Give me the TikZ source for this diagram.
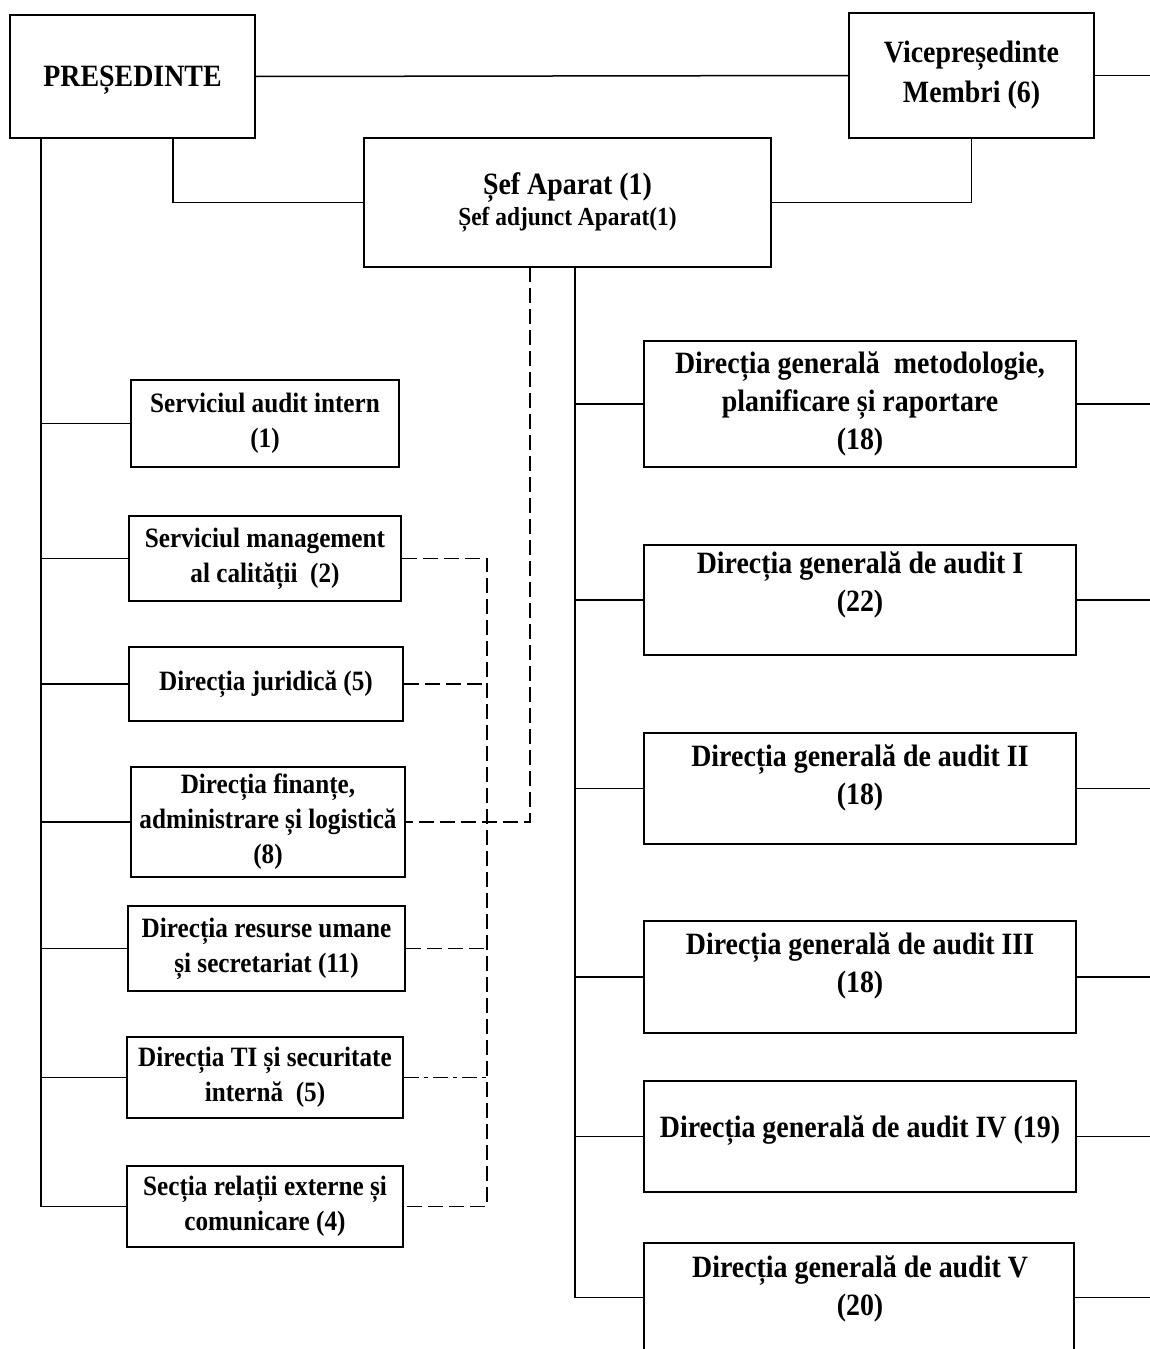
\documentclass[tikz,border=0pt]{standalone}
\usepackage{fontspec}
\setmainfont{Liberation Serif}[FakeStretch=0.9]
\usepackage{tikz}

\begin{document}
\begin{tikzpicture}[x=1pt, y=-1pt,
    box/.style={draw, line width=1.6pt, inner sep=0pt, align=center},
    topfont/.style={font=\fontsize{31}{40}\selectfont\bfseries},
    leftfont/.style={font=\fontsize{28}{35}\selectfont\bfseries},
    rightfont/.style={font=\fontsize{31}{38}\selectfont\bfseries},
    link/.style={line width=1.5pt},
    dashln/.style={line width=1.5pt, dash pattern=on 15pt off 6pt},
    dashdotln/.style={line width=1.5pt, dash pattern=on 15pt off 5pt on 4pt off 5pt}]

    \useasboundingbox[fill=white] (0, 0) rectangle (1150, 1349);
    \clip (0, 0) rectangle (1150, 1349);

    % Top boxes
    \node[box, topfont, text depth=0pt, minimum width=245, minimum height=123] (pres) at (132.5, 76.5) {PREȘEDINTE};
    \node[box, topfont, minimum width=245, minimum height=125] (vice) at (971.5, 75.5) {Vicepreședinte\\Membri (6)};
    \node[box, font=\fontsize{26}{31}\selectfont\bfseries, minimum width=407, minimum height=129] (sef) at (567.5, 202.5)
        {{\fontsize{31}{31}\selectfont Șef Aparat (1)}\\Șef adjunct Aparat(1)};

    % Left column
    \node[box, leftfont, minimum width=268, minimum height=87] (audint) at (265, 423.5) {Serviciul audit intern\\(1)};
    \node[box, leftfont, minimum width=272, minimum height=85] (mgmt) at (265, 558.5) {Serviciul management\\al calității~ (2)};
    \node[box, leftfont, minimum width=274, minimum height=74] (jur) at (266, 684) {Direcția juridică (5)};
    \node[box, leftfont, minimum width=274, minimum height=110] (fin) at (268, 822) {Direcția finanțe,\\administrare și logistică\\(8)};
    \node[box, leftfont, minimum width=277, minimum height=85] (rum) at (266.5, 948.5) {Direcția resurse umane\\și secretariat (11)};
    \node[box, leftfont, minimum width=276, minimum height=81] (ti) at (265, 1077.5) {Direcția TI și securitate\\internă~ (5)};
    \node[box, leftfont, minimum width=276, minimum height=81] (relext) at (265, 1206.5) {Secția relații externe și\\comunicare (4)};

    % Right column
    \node[box, rightfont, minimum width=432, minimum height=126] (dga0) at (860, 404) {Direcția generală~ metodologie,\\planificare și raportare\\(18)};
    \node[box, minimum width=432, minimum height=110] (dga1) at (860, 600) {};
    \node[box, minimum width=432, minimum height=111] (dga2) at (860, 788.5) {};
    \node[box, minimum width=432, minimum height=112] (dga3) at (860, 977) {};
    \node[box, minimum width=432, minimum height=111] (dga4) at (860, 1136.5) {};
    \node[box, minimum width=430, minimum height=109] (dga5) at (859, 1297.5) {};

    \node[rightfont, align=center] (dga1txt) at (860, 585) {Direcția generală de audit I\\(22)};
    \node[rightfont, align=center] (dga2txt) at (860, 778) {Direcția generală de audit II\\(18)};
    \node[rightfont, align=center] (dga3txt) at (860, 966) {Direcția generală de audit III\\(18)};
    \node[rightfont, align=center] (dga4txt) at (860, 1131) {Direcția generală de audit IV (19)};
    \node[rightfont, align=center] (dga5txt) at (860, 1289) {Direcția generală de audit V\\(20)};

    % Top links
    \coordinate (redge) at (1150, 0);
    \coordinate (pjoin) at (173, 138);
    \draw[link] (pres.east) -- (vice.west);
    \draw[link] (vice.east) -- (redge |- vice.east);
    \draw[link] (pjoin) |- (sef.west);
    \draw[link] (vice.south) |- (sef.east);

    % Left trunk
    \coordinate (ltop) at (41, 138);
    \draw[link] (ltop) |- (relext.west);
    \foreach \b in {audint, mgmt, jur, fin, rum, ti}
        \draw[link] (ltop |- \b.west) -- (\b.west);

    % Right trunk
    \coordinate (rtop) at (575, 267);
    \draw[link] (rtop) |- (dga5.west);
    \foreach \b in {dga0, dga1, dga2, dga3, dga4}
        \draw[link] (rtop |- \b.west) -- (\b.west);
    \foreach \b in {dga0, dga1, dga2, dga3, dga4, dga5}
        \draw[link] (\b.east) -- (redge |- \b.east);

    % Dashed links
    \coordinate (dtop) at (530, 267);
    \coordinate (dvert) at (487, 0);
    \draw[dashln] (dtop) |- (fin.east);
    \draw[dashln] (mgmt.east) -| (dvert |- relext.east) -- (relext.east);
    \draw[dashln] (jur.east) -- (dvert |- jur.east);
    \draw[dashln] (rum.east) -- (dvert |- rum.east);
    \draw[dashdotln] (ti.east) -- (dvert |- ti.east);
\end{tikzpicture}
\end{document}
